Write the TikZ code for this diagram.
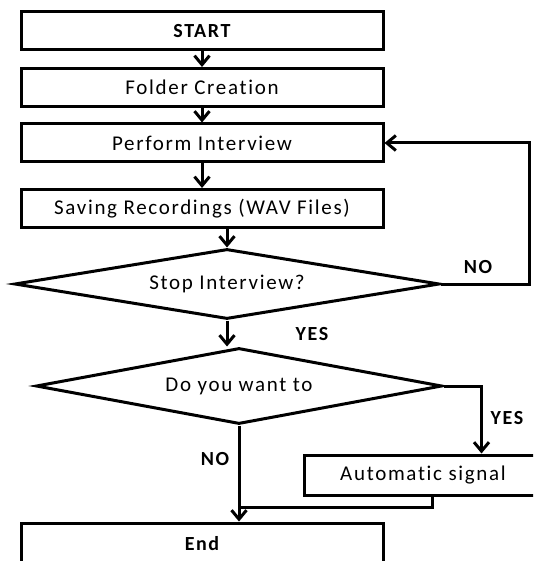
\documentclass[tikz,border=0pt]{standalone}
\usepackage{fontspec}
\setmainfont{Carlito}[LetterSpace=8, Ligatures=NoCommon]
\usetikzlibrary{shapes.geometric, arrows.meta}

\begin{document}
\begin{tikzpicture}[x=1pt, y=-1pt,
    stepbox/.style={rectangle, draw=black, line width=3pt, minimum width=362pt, minimum height=38pt, inner sep=0pt, font=\fontsize{21}{25}\selectfont},
    decision/.style={diamond, draw=black, line width=3pt, aspect=6, inner sep=0pt, font=\fontsize{21}{25}\selectfont},
    answer/.style={font=\bfseries\fontsize{20}{24}\selectfont, inner sep=0pt},
    link/.style={line width=3pt, -{Straight Barb[length=9pt, width=15pt]}},
    joint/.style={line width=3pt}
]
    \clip (0,0) rectangle (533,561);
    % Steps
    \node[stepbox, font=\bfseries\fontsize{20}{24}\selectfont] (start) at (202,31) {START};
    \node[stepbox] (folder) at (202,87.5) {Folder Creation};
    \node[stepbox] (perform) at (202,143) {Perform Interview};
    \node[stepbox] (saving) at (202,208.5) {Saving Recordings (WAV Files)};
    \node[decision, minimum width=425pt, minimum height=70pt] (stop) at (227,284) {Stop Interview?};
    \node[decision, minimum width=406pt, minimum height=76pt] (ask) at (239,386) {Do you want to};
    \node[stepbox, minimum width=238pt, minimum height=40pt] (signal) at (423,475) {Automatic signal};
    \node[stepbox, minimum height=42pt, font=\bfseries\fontsize{20}{24}\selectfont] (finish) at (202,544) {End};
    % Answers
    \node[answer] (no1) at (478,267) {NO};
    \node[answer] (yes1) at (312,334) {YES};
    \node[answer] (yes2) at (507,418) {YES};
    \node[answer] (no2) at (215,459) {NO};
    % Main flow
    \draw[link] (start) -- (folder);
    \draw[link] (folder) -- (perform);
    \draw[link] (perform) -- (saving);
    \draw[link] (saving.south -| stop.north) -- (stop.north);
    \draw[link] (stop.south) -- (stop.south |- ask.north);
    \draw[link] (ask.south) -- (ask.south |- finish.north);
    % Loop back
    \draw[link] (stop.east) -- ++(88,0) |- (perform.east);
    % Signal branch
    \draw[link] (ask.east) -- ++(38,0) coordinate (turn) -- (turn |- signal.north);
    \draw[joint] ([xshift=9pt]signal.south) -- ++(0,11) coordinate (join) -- (join -| ask.south);
\end{tikzpicture}
\end{document}
